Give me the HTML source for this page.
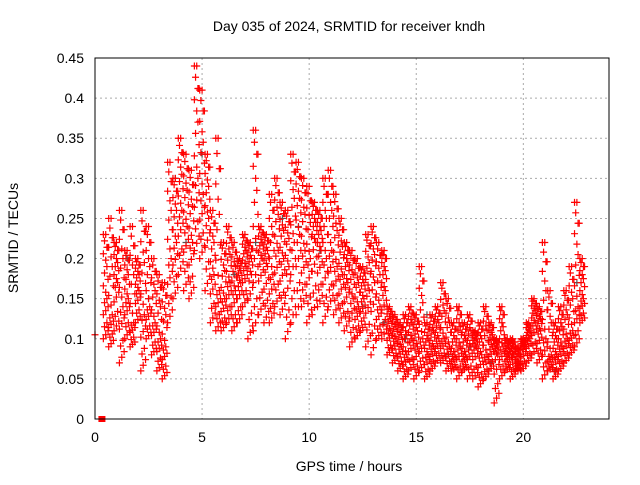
<!DOCTYPE html>
<html><head><meta charset="utf-8"><style>
body{margin:0;background:#fff;}
svg text{font-family:"Liberation Sans",sans-serif;font-size:14px;fill:#000;}
</style></head><body>
<svg id="chart" width="640" height="480" viewBox="0 0 640 480" xmlns="http://www.w3.org/2000/svg">
<text x="349" y="31" text-anchor="middle">Day 035 of 2024, SRMTID for receiver kndh</text>
<text transform="translate(18,238) rotate(-90)" text-anchor="middle">SRMTID / TECUs</text>
<text x="349" y="471" text-anchor="middle">GPS time / hours</text>
<g id="grid"></g>
<g id="ticks"></g>
<g id="marks"></g>
<rect x="95" y="58" width="514" height="361" fill="none" stroke="#000" stroke-width="1"/>
</svg>
<script>
const xTicks=[0,5,10,15,20];
const yTicks=[0,0.05,0.1,0.15,0.2,0.25,0.3,0.35,0.4,0.45];
const yTickLabels=["0","0.05","0.1","0.15","0.2","0.25","0.3","0.35","0.4","0.45"];
const times=[0.5,0.75,1,1.25,1.5,1.75,2,2.25,2.5,2.75,3,3.25,3.5,3.75,4,4.25,4.5,4.75,5,5.25,5.5,5.75,6,6.25,6.5,6.75,7,7.25,7.5,7.75,8,8.25,8.5,8.75,9,9.25,9.5,9.75,10,10.25,10.5,10.75,11,11.25,11.5,11.75,12,12.25,12.5,12.75,13,13.25,13.5,13.75,14,14.25,14.5,14.75,15,15.25,15.5,15.75,16,16.25,16.5,16.75,17,17.25,17.5,17.75,18,18.25,18.5,18.75,19,19.25,19.5,19.75,20,20.25,20.5,20.75,21,21.25,21.5,21.75,22,22.25,22.5,22.75];
const redHi=[.23,.25,.22,.26,.21,.24,.20,.26,.24,.20,.18,.17,.32,.30,.35,.33,.31,.44,.41,.33,.26,.35,.22,.24,.22,.20,.23,.22,.36,.24,.23,.28,.30,.27,.26,.33,.32,.30,.29,.27,.26,.30,.31,.28,.25,.22,.21,.20,.19,.23,.24,.22,.21,.14,.13,.12,.13,.14,.13,.19,.12,.13,.14,.17,.15,.12,.14,.12,.13,.11,.12,.14,.12,.10,.14,.10,.10,.09,.10,.12,.15,.14,.22,.16,.12,.14,.16,.19,.27,.20];
const redMid=[.15,.13,.17,.14,.15,.12,.16,.13,.14,.12,.10,.09,.20,.22,.26,.24,.22,.30,.28,.25,.18,.16,.15,.17,.16,.17,.19,.18,.21,.20,.19,.18,.21,.20,.19,.22,.23,.21,.20,.22,.21,.20,.21,.19,.18,.17,.15,.14,.15,.16,.17,.14,.16,.11,.10,.09,.08,.10,.09,.10,.08,.09,.10,.10,.09,.08,.09,.08,.09,.09,.08,.08,.09,.08,.09,.08,.08,.07,.09,.10,.12,.11,.10,.08,.08,.09,.10,.11,.14,.15];
const redLo=[.10,.09,.11,.07,.10,.09,.12,.06,.10,.08,.06,.05,.12,.15,.18,.16,.15,.21,.20,.16,.12,.11,.11,.12,.11,.12,.14,.10,.11,.13,.12,.12,.14,.13,.10,.12,.13,.14,.12,.13,.14,.12,.14,.13,.12,.11,.09,.10,.11,.09,.08,.10,.10,.08,.07,.06,.05,.06,.05,.06,.05,.06,.07,.07,.06,.06,.05,.06,.05,.05,.04,.05,.06,.02,.05,.06,.05,.06,.06,.07,.08,.07,.05,.06,.05,.06,.07,.08,.09,.12];
const grayT=[1.5,2.5,3.75,4.25,5.0,6.5,7.5,8.75,9.5,10.5,11.25,12.5,13.5,14.5,15.5,16.5,17.5,18.5,19.5,21.5,22.5];
const grayV=[.20,.15,.30,.22,.33,.18,.22,.25,.24,.21,.28,.14,.12,.10,.13,.08,.09,.07,.08,.06,.17];
const X=t=>95+t*(514/24);
const Y=v=>419-v*(361/0.45);
const NS="http://www.w3.org/2000/svg";
const grid=document.getElementById('grid'),ticks=document.getElementById('ticks'),marks=document.getElementById('marks');
function mk(tag,attrs,parent){const e=document.createElementNS(NS,tag);for(const k in attrs)e.setAttribute(k,attrs[k]);parent.appendChild(e);return e;}
yTicks.forEach((v,i)=>{
  const l=mk('line',{x1:95,x2:609,y1:Y(v),y2:Y(v),stroke:'#aaa','stroke-dasharray':'2,3'},grid);
  
  
  const t=mk('text',{x:84,y:Y(v)+5,'text-anchor':'end'},ticks);t.textContent=yTickLabels[i];
  
  
});
xTicks.forEach(v=>{
  const l=mk('line',{x1:X(v),x2:X(v),y1:58,y2:419,stroke:'#aaa','stroke-dasharray':'2,3'},grid);
  
  
  const t=mk('text',{x:X(v),y:442,'text-anchor':'middle'},ticks);t.textContent=String(v);
  
  
});
function plus(t,v,color,name){
  const x=X(t),y=Y(v);
  const p=mk('path',{d:`M${x-3.5},${y}h7M${x},${y-3.5}v7`,stroke:color,'stroke-width':1.2,fill:'none'},marks);
  
  
}
grayT.forEach((t,i)=>plus(t,grayV[i],'#555','gray-point'));
const offs=[-0.11,-0.055,0,0.055,0.11];
const fracs=[[0,.3,.6,.85,1],[.15,.45,.7,.95],[.05,.35,.55,.8,1],[.2,.5,.75,.9],[.1,.4,.65,.9]];
times.forEach((t,i)=>{
  const hi=redHi[i],mid=redMid[i],lo=redLo[i];
  offs.forEach((o,j)=>{
    fracs[j].forEach(f=>{
      const v=f<0.5? lo+(mid-lo)*(f/0.5) : mid+(hi-mid)*((f-0.5)/0.5);
      plus(t+o,v,'#f00','red-point');
    });
  });
});
plus(0,0.105,'#f00','red-point');
const sq=mk('rect',{x:X(0.3)-3,y:416,width:7,height:6,fill:'#f00'},marks);


</script>
</body></html>
